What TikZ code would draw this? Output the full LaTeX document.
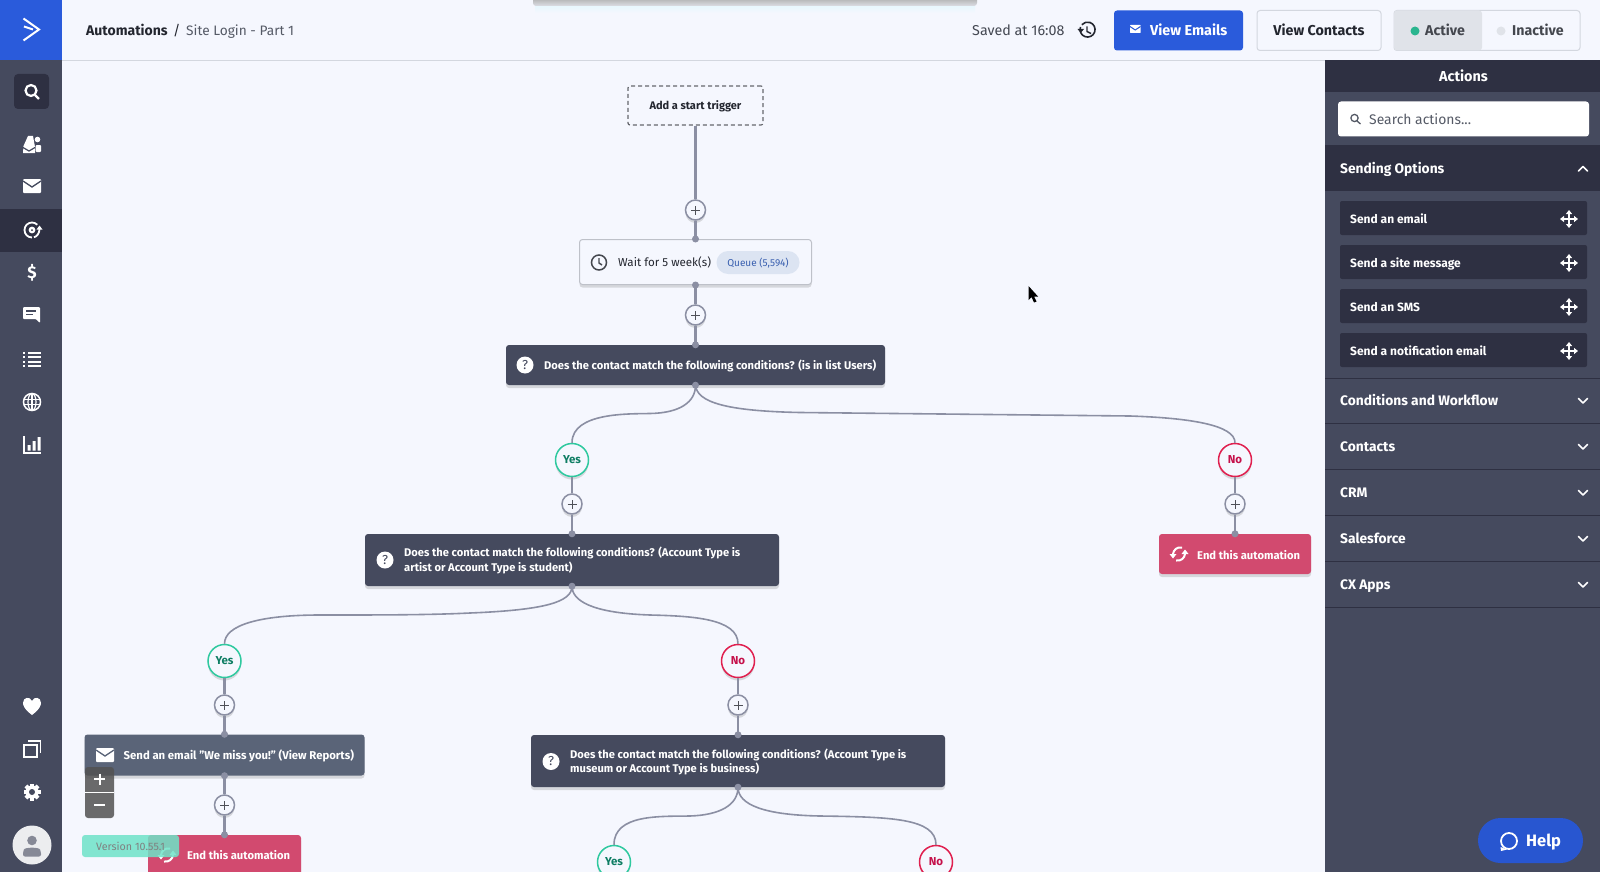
\documentclass[tikz,border=0pt]{standalone}
\usepackage{fontspec}
\setmainfont{Fira Sans}
\usetikzlibrary{arrows.meta,shadows,shapes.misc}
\definecolor{bgc}{HTML}{F5F7FE}
\definecolor{side}{HTML}{454A5E}
\definecolor{darkc}{HTML}{2E3042}
\definecolor{blu}{HTML}{2A5BDB}
\definecolor{slatec}{HTML}{5A6478}
\definecolor{redc}{HTML}{D24A6F}
\definecolor{linec}{HTML}{8B8FA3}
\definecolor{yesc}{HTML}{2FC99F}
\definecolor{yest}{HTML}{0E7D63}
\definecolor{noc}{HTML}{E0204F}
\definecolor{notx}{HTML}{C5104A}
\definecolor{bordc}{HTML}{D3D7DF}
\definecolor{inkc}{HTML}{23262F}
\definecolor{grayt}{HTML}{555A66}
\definecolor{pillc}{HTML}{DCE4F2}
\definecolor{pillt}{HTML}{3A60B0}
\definecolor{tealc}{HTML}{6FE3C8}
\tikzset{
 lab/.style={inner sep=0pt,anchor=west,text height=11.5pt,text depth=1pt},
 hd/.style={font=\fontsize{#1}{16}\selectfont},
 hb/.style={font=\fontsize{#1}{16}\selectfont\bfseries},
 whitebold/.style={lab,font=\fontsize{#1}{14.5}\selectfont\bfseries,text=white},
 twolines/.style={inner sep=0pt,anchor=west,align=left,text=white,font=\fontsize{11.15}{14.5}\selectfont\bfseries},
 panelhead/.style={lab,font=\fontsize{13.8}{16}\selectfont\bfseries,text=white},
 shad/.style={drop shadow={shadow xshift=0pt,shadow yshift=-3pt,opacity=.22,fill=black!60}},
 condbox/.style={rectangle,fill=side,rounded corners=3pt,inner sep=0pt,shad},
 redbox/.style={rectangle,fill=redc,rounded corners=3pt,inner sep=0pt,shad},
 wire/.style={draw=linec,line width=2.2pt},
 curve/.style={draw=linec,line width=1.6pt},
 plusbtn/.style={circle,draw=linec,line width=1.5pt,fill=bgc,minimum size=20pt,inner sep=0pt,shad},
 yesbtn/.style={circle,draw=yesc,line width=1.5pt,fill=bgc,minimum size=33pt,inner sep=0pt,text=yest,font=\fontsize{11.5}{14}\selectfont\bfseries,shad},
 nobtn/.style={circle,draw=noc,line width=1.5pt,fill=bgc,minimum size=33pt,inner sep=0pt,text=notx,font=\fontsize{11.5}{14}\selectfont\bfseries,shad},
 portdot/.style={circle,fill=linec,minimum size=7pt,inner sep=0pt},
 qmark/.style={circle,fill=white,minimum size=17pt,inner sep=0pt,text=side,font=\fontsize{13}{14}\selectfont},
 itembox/.style={rectangle,fill=darkc,rounded corners=2pt,minimum width=247pt,minimum height=34pt,inner sep=0pt},
 btn/.style={rectangle,rounded corners=3pt,draw=bordc,line width=1pt,fill=bgc,inner sep=0pt},
}
\newcommand{\plusglyph}[1]{\draw[inkc!80,line width=1pt] ([xshift=-4.5pt]#1.center) -- ([xshift=4.5pt]#1.center) ([yshift=-4.5pt]#1.center) -- ([yshift=4.5pt]#1.center);}
\newcommand{\moveicon}[2]{\draw[white,line width=1.8pt,{Triangle[length=4pt,width=6pt]}-{Triangle[length=4pt,width=6pt]}] (#1-9,#2)--(#1+9,#2);\draw[white,line width=1.8pt,{Triangle[length=4pt,width=6pt]}-{Triangle[length=4pt,width=6pt]}] (#1,#2-9)--(#1,#2+9);}
\newcommand{\envel}[3]{\fill[white,rounded corners=1pt] (#1-9,#2-7) rectangle (#1+9,#2+7);\draw[#3,line width=1.3pt] (#1-9,#2-5) -- (#1,#2+1) -- (#1+9,#2-5);}
\newcommand{\recyc}[2]{\begin{scope}[shift={(#1,#2)}]
\draw[white,line width=2pt] (3,-6.5) .. controls (-2,-7.5) and (-5.5,-4) .. (-6,0);
\fill[white] (-9.5,0) -- (-2.5,0) -- (-6,4.5) -- cycle;
\draw[white,line width=2pt] (-3,6.5) .. controls (2,7.5) and (5.5,4) .. (6,0);
\fill[white] (9.5,0) -- (2.5,0) -- (6,-4.5) -- cycle;
\end{scope}}
\begin{document}
\begin{tikzpicture}[x=1pt,y=-1pt]
\useasboundingbox (0,0) rectangle (1600,872);
\fill[bgc] (0,0) rectangle (1600,872);
% top shadow
\shade[top color=cyan!7!bgc,bottom color=bgc] (535,4) rectangle (975,13);
\shade[top color=black!36,bottom color=black!10!bgc,rounded corners=3pt] (533,-4) rectangle (977,6);
% header
\draw[bordc,line width=1pt] (62,60.5) -- (1600,60.5);
\node[lab,hb=14,text=inkc] (crumb) at (86,30) {Automations};
\node[lab,hd=14,text=inkc] (slash) at (173,30) {/};
\node[lab,hd=13.7,text=grayt] (site) at (186,30) {Site Login - Part 1};
\node[lab,hd=14.3,text=grayt!80!black] (saved) at (972,30) {Saved at 16:08};
% history icon
\draw[inkc,line width=1.6pt] (1080.5,27) arc[start angle=200,end angle=-140,radius=7.5];
\draw[inkc,line width=1.4pt] (1087,26.5) -- (1087,31.5) -- (1091,33.5);
\fill[inkc] (1077.5,29) -- (1084,29) -- (1080.7,33) -- cycle;
\node[rectangle,rounded corners=3pt,fill=blu,minimum width=129pt,minimum height=40pt,inner sep=0pt] (vemails) at (1178.5,30.5) {};
\fill[white,rounded corners=.5pt] (1130,25) rectangle (1140.5,33);
\draw[blu,line width=1pt] (1130,26.5) -- (1135.2,30) -- (1140.5,26.5);
\node[lab,hb=14.4,text=white] (vemailst) at (1150,30) {View Emails};
\node[btn,minimum width=124pt,minimum height=40pt] (vcont) at (1319,30.5) {};
\node[lab,hb=14.3,text=inkc,anchor=center] (vcontt) at (vcont.center) {View Contacts};
\node[btn,minimum width=186pt,minimum height=40pt] (toggle) at (1487,30.5) {};
\fill[rounded corners=3pt,fill=bordc!70] (1394,10.5) -- (1482,10.5) -- (1482,50.5) -- (1394,50.5) -- cycle;
\node[circle,fill=yesc!90!black,minimum size=9pt,inner sep=0pt] (adot) at (1415,31) {};
\node[lab,hb=14.2,text=inkc!85] (atxt) at (1425,30) {Active};
\node[circle,fill=bordc!70,minimum size=9pt,inner sep=0pt] (idot) at (1501,31) {};
\node[lab,hb=14.2,text=inkc!85] (itxt) at (1512,30) {Inactive};
% sidebar
\fill[side] (0,60) rectangle (62,872);
\fill[blu] (0,0) rectangle (62,60);
\draw[white,line width=2pt,line join=miter] (23.5,18.5) -- (39,29.5) -- (23.5,40.5);
\draw[white,line width=2pt] (24,26.5) -- (33,29.5);
\fill[darkc,rounded corners=4pt] (14,74) rectangle (49,109);
\draw[white,line width=2.2pt] (31,90.5) circle (5.5);
\draw[white,line width=2.4pt] (35,95) -- (39,99);
% people
\fill[white] (23,153) -- (23.5,146) -- (28,136) -- (33,136) -- (35,147) -- (35,153) -- cycle;
\fill[white] (37.5,139.5) circle (2.8);
\fill[white,rounded corners=1pt] (35.5,145) rectangle (41,152);
\draw[side,line width=1.2pt] (23,147.5) -- (29,151) -- (35,147.5);
% envelope
\envel{32}{186}{side}
% automations icon (active)
\fill[darkc] (0,209) rectangle (62,252);
\draw[white,line width=1.8pt] (37.3,224.7) arc[start angle=-45,end angle=-270,radius=7.5];
\draw[white,line width=1.8pt] (34,237.3) .. controls (37,236.5) and (39.5,233) .. (39.5,229);
\fill[white] (36.5,229.5) -- (42.5,229.5) -- (39.5,225.5) -- cycle;
\fill[white] (32,230) circle (3.4);
\fill[darkc] (32,230) circle (1);
\node[circle,inner sep=0pt,font=\fontsize{17}{18}\selectfont\bfseries,text=white] (dollar) at (32,273) {\$};
% chat
\fill[white,rounded corners=1pt] (23,307) -- (40,307) -- (40,323) -- (36,319) -- (23,319) -- cycle;
\draw[side,line width=1.3pt] (26,311) -- (36,311) (26,314.5) -- (33,314.5);
% list
\foreach \y in {352.5,357,361.5,366}{\fill[white] (23,\y-1) rectangle (25,\y+1);\fill[white] (28,\y-1) rectangle (41,\y+1);}
% globe
\draw[white,line width=1.5pt] (32,402) circle (8.5);
\draw[white,line width=1.2pt] (32,402) ellipse (4 and 8.5);
\draw[white,line width=1.2pt] (23.5,399.5) -- (40.5,399.5) (23.5,404.5) -- (40.5,404.5) (32,393.5) -- (32,410.5);
% chart
\draw[white,line width=1.6pt] (24,436) -- (24,453) -- (41,453);
\fill[white] (27.5,445) rectangle (30.5,450.5) (32.5,441) rectangle (35.5,450.5) (37.5,437) rectangle (40.5,450.5);
% heart
\fill[white] (32,715) .. controls (24,709) and (23,705) .. (23,703) .. controls (23,697) and (30,696) .. (32,701) .. controls (34,696) and (41,697) .. (41,703) .. controls (41,705) and (40,709) .. (32,715) -- cycle;
% copies
\draw[white,line width=1.7pt] (28,741) -- (40.5,741) -- (40.5,752.5);
\draw[white,line width=1.8pt] (24,745) rectangle (37,757);
% gear
\fill[white] (32,792) circle (6.5);
\foreach \a in {0,45,...,315}{\fill[white,rotate around={\a:(32,792)}] (30,783.5) rectangle (34,787);}
\fill[side] (32,792) circle (3);
% avatar
\node[circle,fill=white!90!side,minimum size=39pt,inner sep=0pt] (avatar) at (32,845) {};
\fill[side!65] (32,840.5) circle (4.8);
\fill[side!65,rounded corners=2pt] (23,856.5) -- (23,851.5) .. controls (25,847) and (39,847) .. (41,851.5) -- (41,856.5) -- cycle;
% right panel
\fill[side] (1325,60) rectangle (1600,872);
\fill[darkc] (1325,60) rectangle (1600,92);
\node[lab,hb=14.4,text=white,anchor=center] (actions) at (1463.5,76) {Actions};
\node[rectangle,fill=white,rounded corners=3pt,minimum width=251pt,minimum height=35pt,inner sep=0pt] (searchb) at (1463.5,119) {};
\draw[grayt,line width=1.3pt] (1354.5,118) circle (3.6) (1357,121) -- (1360.5,124);
\node[lab,hd=13.9,text=grayt] (searcht) at (1369,119) {Search actions...};
\fill[darkc] (1325,145) rectangle (1600,191);
\node[panelhead] (sending) at (1340,168) {Sending Options};
\draw[white,line width=1.7pt,line cap=round,line join=round] (1578.5,171) -- (1583,166.5) -- (1587.5,171);
\foreach \y/\t/\n in {218/Send an email/a,262/Send a site message/b,306/Send an SMS/c,350/Send a notification email/d}{
 \node[itembox] (item\n) at (1463.5,\y) {};
 \node[whitebold=12] (itemt\n) at (1350,\y) {\t};
 \moveicon{1569}{\y+1}
}
\draw[darkc,line width=1pt] (1325,378.5) -- (1600,378.5);
\foreach \y/\t/\n in {400.5/Conditions and Workflow/e,446.5/Contacts/f,492.5/CRM/g,538.5/Salesforce/h,584.5/CX Apps/i}{
 \node[panelhead] (head\n) at (1340,\y) {\t};
 \draw[white,line width=1.7pt,line cap=round,line join=round] (1578.5,\y-2) -- (1583,\y+2.5) -- (1587.5,\y-2);
 \draw[darkc,line width=1pt] (1325,\y+23) -- (1600,\y+23);
}
% flow boxes
\node[rectangle,draw=inkc!70,dashed,dash pattern=on 4pt off 3pt,line width=1.2pt,rounded corners=2pt,fill=bgc,minimum width=135pt,minimum height=39pt,inner sep=0pt,text height=9.5pt,text depth=1pt,font=\fontsize{11}{14}\selectfont\bfseries,text=inkc] (trigger) at (695.5,105.5) {Add a start trigger};
\node[rectangle,draw=bordc!90!black,line width=1pt,fill=bgc,rounded corners=3pt,minimum width=232pt,minimum height=45pt,inner sep=0pt,shad] (wait) at (695.5,262) {};
\node[condbox,minimum width=379pt,minimum height=40pt] (c1) at (695.5,365) {};
\node[condbox,minimum width=414pt,minimum height=52pt] (c2) at (572,560) {};
\node[redbox,minimum width=152pt,minimum height=40pt] (end1) at (1235,554) {};
\node[condbox,fill=slatec,minimum width=280pt,minimum height=41pt] (send) at (224.5,755) {};
\node[condbox,minimum width=414pt,minimum height=52pt] (c3) at (738,761) {};
\node[redbox,minimum width=153pt,minimum height=50pt] (end2) at (224.5,860) {};
% plus / yes / no
\node[plusbtn] (p1) at (695.5,210) {};
\node[plusbtn] (p2) at (695.5,315) {};
\node[yesbtn] (y1) at (572,460) {Yes};
\node[nobtn] (n1) at (1235,460) {No};
\node[plusbtn] (p3) at (572,504) {};
\node[plusbtn] (p4) at (1235,504) {};
\node[yesbtn] (y2) at (224.5,661) {Yes};
\node[nobtn] (n2) at (738,661) {No};
\node[plusbtn] (p5) at (224.5,705) {};
\node[plusbtn] (p6) at (738,705) {};
\node[plusbtn] (p7) at (224.5,805) {};
\node[yesbtn] (y3) at (614,862) {Yes};
\node[nobtn] (n3) at (936,862) {No};
% connectors
\draw[wire] (trigger.south) -- (p1.north);
\draw[wire] (p1.south) -- (wait.north);
\draw[wire] (wait.south) -- (p2.north);
\draw[wire] (p2.south) -- (c1.north);
\draw[wire] (y1.south) -- (p3.north);
\draw[wire] (p3.south) -- (c2.north);
\draw[wire] (n1.south) -- (p4.north);
\draw[wire] (p4.south) -- (end1.north);
\draw[wire] (y2.south) -- (p5.north);
\draw[wire] (p5.south) -- (send.north);
\draw[wire] (send.south) -- (p7.north);
\draw[wire] (p7.south) -- (end2.north);
\draw[wire] (n2.south) -- (p6.north);
\draw[wire] (p6.south) -- (c3.north);
\draw[curve] (c1.south) .. controls (695.5,402) and (680,413) .. (650,413.5) .. controls (630,414) and (572,412) .. (y1.north);
\draw[curve] (c1.south) .. controls (697,402) and (725,411) .. (800,412.5) -- (1130,416) .. controls (1190,418) and (1235,425) .. (n1.north);
\draw[curve] (c2.south) .. controls (572,602) and (545,610) .. (470,613) .. controls (430,615) and (380,615) .. (320,615) .. controls (260,615) and (224.5,625) .. (y2.north);
\draw[curve] (c2.south) .. controls (572,600) and (590,613) .. (650,615) .. controls (690,616) and (738,618) .. (n2.north);
\draw[curve] (c3.south) .. controls (738,805) and (720,815) .. (690,816) .. controls (660,816.5) and (614,814) .. (y3.north);
\draw[curve] (c3.south) .. controls (738,805) and (765,815) .. (820,816) .. controls (890,817) and (936,818) .. (n3.north);
% port dots
\node[portdot] (dw1) at (wait.north) {};
\node[portdot] (dw2) at (wait.south) {};
\node[portdot] (dc1t) at (c1.north) {};
\node[portdot] (dc1b) at (c1.south) {};
\node[portdot] (dc2t) at (c2.north) {};
\node[portdot] (dc2b) at (c2.south) {};
\node[portdot] (de1) at (end1.north) {};
\node[portdot] (ds1) at (send.north) {};
\node[portdot] (ds2) at (send.south) {};
\node[portdot] (de2) at (end2.north) {};
\node[portdot] (dc3t) at (c3.north) {};
\node[portdot] (dc3b) at (c3.south) {};
\foreach \n in {p1,p2,p3,p4,p5,p6,p7}{\plusglyph{\n}}
% contents
\draw[inkc!85,line width=1.5pt] (599,262.5) circle (7.5);
\draw[inkc!85,line width=1.4pt] (599,258) -- (599,263) -- (602,265);
\node[lab,font=\fontsize{11.6}{15}\selectfont,text=inkc] (waitt) at (618,261.5) {Wait for 5 week(s)};
\node[rounded rectangle,fill=pillc,minimum width=83pt,minimum height=23pt,inner sep=0pt,text height=9pt,text depth=1pt,font=\fontsize{10}{12}\selectfont,text=pillt] (queue) at (758,262.5) {Queue (5,594)};
\node[qmark] (q1) at (525,365) {?};
\node[whitebold=11.15] (c1t) at (544,364.3) {Does the contact match the following conditions? (is in list Users)};
\node[qmark] (q2) at (385,560) {?};
\node[twolines] (c2t) at (404,560.5) {Does the contact match the following conditions? (Account Type is\\artist or Account Type is student)};
\node[qmark] (q3) at (551,761.5) {?};
\node[twolines] (c3t) at (570,762) {Does the contact match the following conditions? (Account Type is\\museum or Account Type is business)};
\recyc{1179}{554}
\node[whitebold=11.2] (e1t) at (1197,554.5) {End this automation};
\envel{105}{755}{slatec}
\node[whitebold=11.35] (st) at (123.5,754.2) {Send an email "We miss you!" (View Reports)};
\recyc{167}{855}
\node[whitebold=11.2] (e2t) at (187,854.5) {End this automation};
% zoom controls
\node[rectangle,rounded corners=3pt,fill=black!68,opacity=.85,minimum width=29pt,minimum height=51pt,inner sep=0pt] (zoomb) at (99.5,792.5) {};
\draw[white,line width=1pt] (85,792.5) -- (114,792.5);
\draw[white,line width=2pt] (94,779) -- (105,779) (99.5,773.5) -- (99.5,784.5) (94,805) -- (105,805);
% version badge
\node[rectangle,rounded corners=3pt,fill=tealc,opacity=.85,minimum width=97pt,minimum height=22pt,inner sep=0pt] (vbadge) at (130.5,846) {};
\node[lab,font=\fontsize{10.7}{12}\selectfont,text=black!50] (vtext) at (96,845.3) {Version 10.55.1};
% help
\node[rounded rectangle,fill=blu!95!black,minimum width=105pt,minimum height=45pt,inner sep=0pt] (help) at (1530.5,840.5) {};
\draw[white,line width=1.8pt] (1509,841) circle (8);
\fill[white] (1500.5,847) -- (1501,851) -- (1507,849.5) -- cycle;
\node[lab,font=\fontsize{16.5}{18}\selectfont\bfseries,text=white] (helpt) at (1526,841) {Help};
% cursor
\fill[black] (1028.5,286) -- (1028.5,300) -- (1031.5,297) -- (1034,302.5) -- (1036.5,301.5) -- (1034,296.5) -- (1038,296.5) -- cycle;
\end{tikzpicture}
\end{document}
